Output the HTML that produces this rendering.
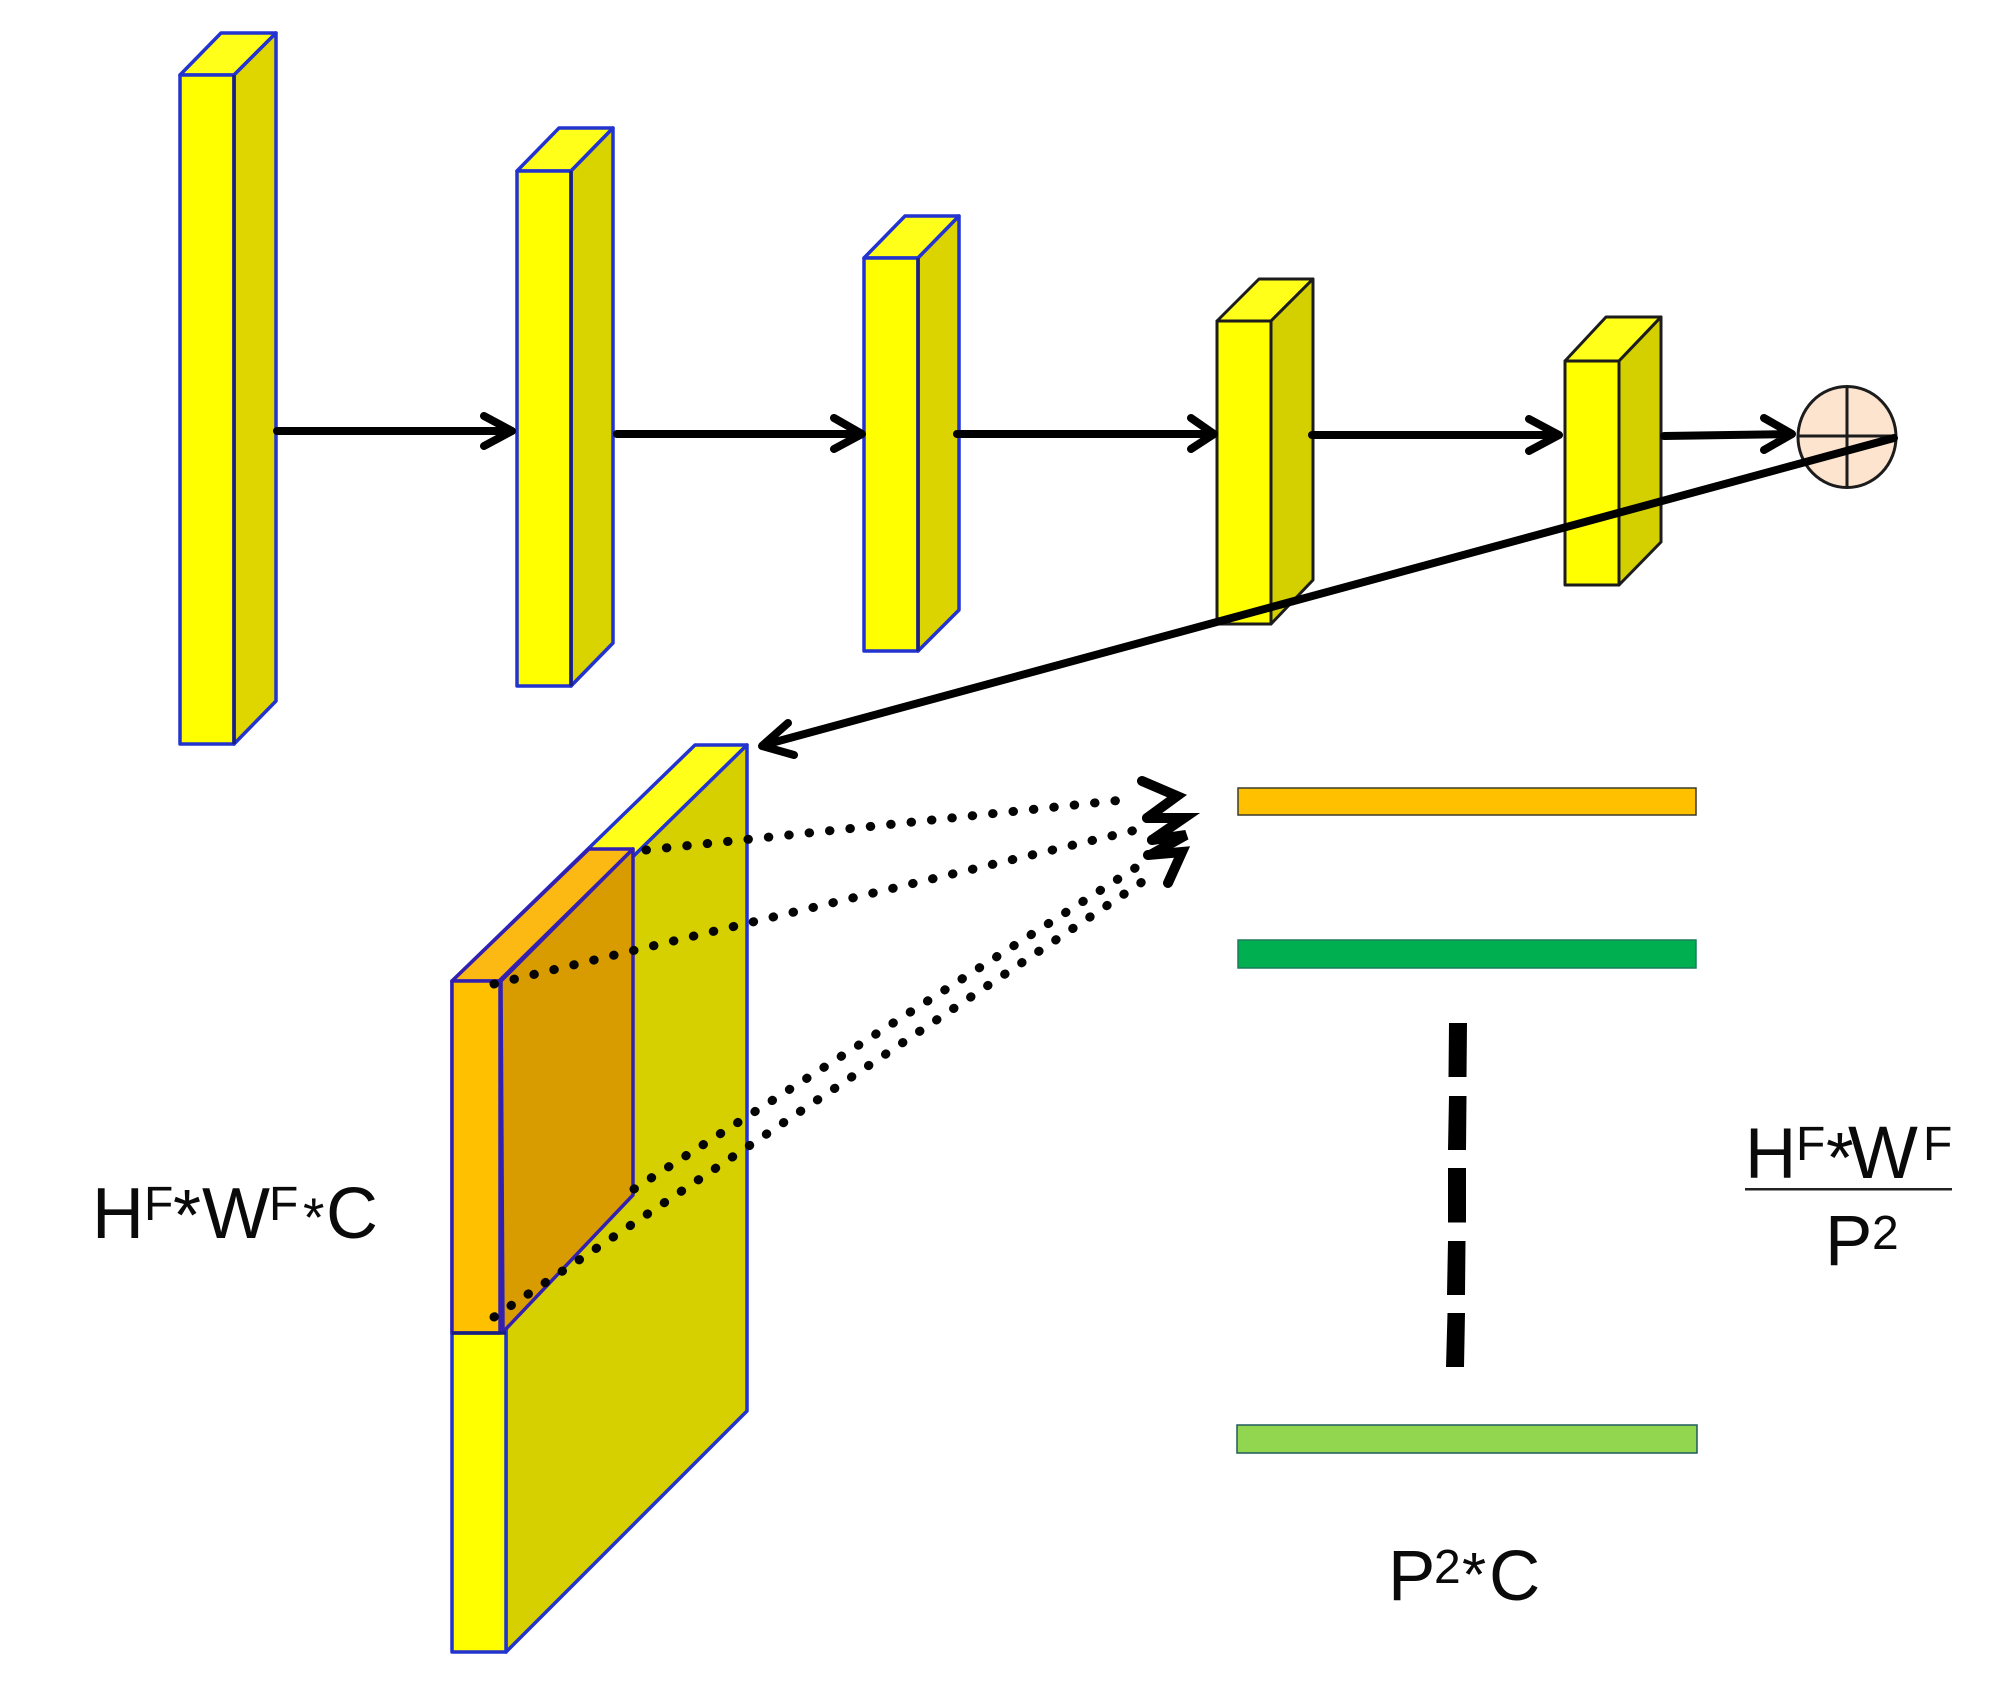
<!DOCTYPE html>
<html>
<head>
<meta charset="utf-8">
<style>
html,body{margin:0;padding:0;background:#fff;width:2000px;height:1694px;overflow:hidden}
svg{display:block}
text{font-family:"Liberation Sans",sans-serif;fill:#0a0a0a}
</style>
</head>
<body>
<svg width="2000" height="1694" viewBox="0 0 2000 1694" xmlns="http://www.w3.org/2000/svg">
<rect width="2000" height="1694" fill="#fff"/>

<!-- Box 1 -->
<g stroke="#2233d0" stroke-width="3.5" stroke-linejoin="round">
<polygon points="180,75 221,33 276,33 234,75" fill="#ffff19"/>
<polygon points="234,75 276,33 276,701 234,744" fill="#dfd600"/>
<rect x="180" y="75" width="54" height="669" fill="#ffff00"/>
<line x1="234" y1="75" x2="234" y2="744" stroke="#1a2080"/>
</g>
<!-- Box 2 -->
<g stroke="#2233d0" stroke-width="3.5" stroke-linejoin="round">
<polygon points="517,171 559,128 613,128 571,171" fill="#ffff19"/>
<polygon points="571,171 613,128 613,643 571,686" fill="#d9d300"/>
<rect x="517" y="171" width="54" height="515" fill="#ffff00"/>
<line x1="571" y1="171" x2="571" y2="686" stroke="#1a2080"/>
</g>
<!-- Box 3 -->
<g stroke="#2233d0" stroke-width="3.5" stroke-linejoin="round">
<polygon points="864,258 905,216 959,216 918,258" fill="#ffff19"/>
<polygon points="918,258 959,216 959,610 918,651" fill="#dcd400"/>
<rect x="864" y="258" width="54" height="393" fill="#ffff00"/>
<line x1="918" y1="258" x2="918" y2="651" stroke="#1a2080"/>
</g>
<!-- Box 4 -->
<g stroke="#1c1c1c" stroke-width="3" stroke-linejoin="round">
<polygon points="1217,321 1259,279 1313,279 1271,321" fill="#ffff19"/>
<polygon points="1271,321 1313,279 1313,580 1271,624" fill="#d4d000"/>
<rect x="1217" y="321" width="54" height="303" fill="#ffff00"/>
</g>
<!-- Box 5 -->
<g stroke="#1c1c1c" stroke-width="3" stroke-linejoin="round">
<polygon points="1565,361 1606,317 1661,317 1619,361" fill="#ffff19"/>
<polygon points="1619,361 1661,317 1661,542 1619,585" fill="#d4d000"/>
<rect x="1565" y="361" width="54" height="224" fill="#ffff00"/>
</g>

<!-- Circle -->
<ellipse cx="1847" cy="437" rx="49" ry="50.5" fill="#fce4cf" stroke="#1c1c1c" stroke-width="3"/>
<line x1="1798" y1="436" x2="1896" y2="436" stroke="#1c1c1c" stroke-width="3"/>
<line x1="1847" y1="386" x2="1847" y2="487" stroke="#1c1c1c" stroke-width="3"/>

<!-- Top arrows -->
<g fill="none" stroke="#000" stroke-width="8" stroke-linecap="round" stroke-linejoin="round">
<path d="M277,431 H511 M484,416 L512,431 L484,446"/>
<path d="M617,434 H861 M834,418 L862,434 L834,449"/>
<path d="M957,434 H1213 M1191,418 L1214,434 L1191,449"/>
<path d="M1312,435 H1558 M1529,419 L1559,435 L1529,451"/>
<path d="M1664,436 L1791,434 M1764,418 L1792,434 L1764,450"/>
<path d="M1894,438 L764,745 M788,723 L762,746 L794,755"/>
</g>

<!-- Large slab -->
<g stroke="#2233d0" stroke-width="3.5" stroke-linejoin="round">
<polygon points="452,981 695,745 747,745 506,981" fill="#ffff19"/>
<polygon points="506,981 747,745 747,1411 506,1652" fill="#d6d000"/>
<rect x="452" y="981" width="54" height="671" fill="#ffff00"/>
</g>
<g stroke="#3320b0" stroke-width="3.5" stroke-linejoin="round">
<polygon points="452,981 589,849 633,849 499,981" fill="#fdb913"/>
<polygon points="501,981 633,849 633,1195 503,1332" fill="#d99c00"/>
<rect x="452" y="981" width="48" height="352" fill="#ffc000"/>
<line x1="452" y1="1333" x2="506" y2="1333" stroke="#1a2080"/>
</g>

<!-- Dotted lines -->
<g fill="none" stroke="#050505" stroke-width="9" stroke-linecap="round" stroke-dasharray="0.5 20">
<line x1="646" y1="850" x2="1132" y2="799"/>
<line x1="494" y1="984" x2="1140" y2="829"/>
<line x1="634" y1="1189" x2="1143" y2="863"/>
<line x1="494" y1="1317" x2="1148" y2="878"/>
</g>

<!-- Overlapping arrowheads -->
<g fill="none" stroke="#000" stroke-width="10" stroke-linecap="round" stroke-linejoin="miter">
<path d="M1142,781 L1177,796 L1147,818"/>
<path d="M1147,818 L1184,818 L1152,840"/>
<path d="M1152,840 L1186,835 L1152,854"/>
<path d="M1148,855 L1182,852 L1168,883"/>
</g>

<!-- Bars -->
<rect x="1238" y="788" width="458" height="27" fill="#ffc000" stroke="#3a3a2a" stroke-width="1.5"/>
<rect x="1238" y="940" width="458" height="28" fill="#00b050" stroke="#1e7a5a" stroke-width="1.5"/>
<rect x="1237" y="1425" width="460" height="28" fill="#92d650" stroke="#1e5a5a" stroke-width="1.5"/>

<!-- Dashes -->
<g fill="#000">
<polygon points="1449,1023 1467,1023 1466.5,1077 1448.5,1077"/>
<polygon points="1449,1096 1466.5,1096 1466,1150 1448,1150"/>
<polygon points="1448,1168 1466,1168 1466,1222.500 1448,1222.500"/>
<polygon points="1448,1241 1465.500,1241 1465,1295 1447,1295"/>
<polygon points="1447.500,1313 1465,1313 1464,1367 1446,1367"/>
</g>

<!-- Left label -->
<text x="92" y="1238" font-size="72">H</text>
<text x="144" y="1220" font-size="48">F</text>
<text x="173" y="1240" font-size="72">*</text>
<text x="202" y="1238" font-size="72">W</text>
<text x="269" y="1220" font-size="48">F</text>
<text x="303" y="1236" font-size="55">*</text>
<text x="326" y="1238" font-size="72">C</text>

<!-- Right fraction -->
<text x="1745" y="1178" font-size="71">H</text>
<text x="1796" y="1160" font-size="48">F</text>
<text x="1826" y="1182" font-size="71">*</text>
<text x="1848" y="1178" font-size="74">W</text>
<text x="1923" y="1160" font-size="48">F</text>
<rect x="1745" y="1188" width="207" height="2.500" fill="#222"/>
<text x="1825" y="1265" font-size="71">P</text>
<text x="1872" y="1249" font-size="48">2</text>

<!-- Bottom label -->
<text x="1388" y="1600" font-size="71">P</text>
<text x="1434" y="1583" font-size="48">2</text>
<text x="1462" y="1596" font-size="62">*</text>
<text x="1489" y="1600" font-size="71">C</text>
</svg>
</body>
</html>
